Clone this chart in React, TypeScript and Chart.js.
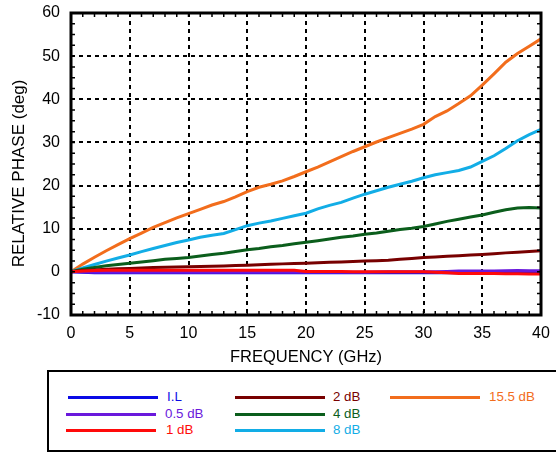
import React, { useEffect, useRef } from "react";
import { Chart, registerables } from "chart.js";

Chart.register(...registerables);

const freq = [0,1,2,3,4,5,6,7,8,9,10,11,12,13,14,15,16,17,18,19,20,21,22,23,24,25,26,27,28,29,30,31,32,33,34,35,36,37,38,39,40];

const il = [0,-0.1,-0.2,-0.2,-0.2,-0.2,-0.2,-0.2,-0.2,-0.2,-0.2,-0.2,-0.2,-0.2,-0.2,-0.2,-0.2,-0.2,-0.2,-0.2,-0.2,-0.2,-0.2,-0.2,-0.2,-0.2,-0.2,-0.2,-0.2,-0.2,-0.2,-0.2,-0.2,-0.2,-0.2,-0.2,-0.2,-0.2,-0.2,-0.2,-0.2];
const db05 = [0,-0.05,-0.1,-0.1,-0.1,-0.1,-0.1,-0.1,-0.1,-0.1,-0.1,-0.1,-0.1,-0.1,-0.1,-0.1,-0.1,-0.1,-0.1,-0.1,-0.1,-0.1,-0.1,-0.1,-0.1,-0.1,-0.05,0,0,0,0,0.05,0.1,0.2,0.2,0.2,0.2,0.25,0.3,0.25,0.25];
const db1 = [0,0.2,0.3,0.35,0.4,0.4,0.4,0.4,0.4,0.4,0.4,0.4,0.4,0.4,0.4,0.4,0.35,0.35,0.35,0.35,0.1,0.1,0.1,0.1,0.05,0,0,0,0,0,0,-0.1,-0.2,-0.4,-0.4,-0.4,-0.4,-0.45,-0.45,-0.5,-0.5];
const db2 = [0,0.3,0.45,0.6,0.7,0.8,0.9,1.0,1.05,1.1,1.2,1.25,1.3,1.35,1.45,1.55,1.65,1.75,1.85,1.95,2.0,2.1,2.2,2.3,2.4,2.5,2.6,2.7,2.9,3.1,3.3,3.45,3.6,3.75,3.9,4.05,4.2,4.4,4.55,4.7,4.9];
const db4 = [0,0.6,1.0,1.4,1.7,2.0,2.3,2.6,2.9,3.1,3.35,3.7,4.0,4.3,4.7,5.1,5.4,5.8,6.1,6.5,6.85,7.2,7.6,8.0,8.3,8.7,9.0,9.4,9.8,10.1,10.5,11.1,11.7,12.2,12.7,13.2,13.8,14.4,14.8,14.9,14.8];
const db8 = [0,0.9,1.7,2.5,3.2,3.9,4.7,5.4,6.1,6.8,7.4,8.0,8.5,8.9,9.8,10.7,11.3,11.8,12.4,13.0,13.6,14.6,15.4,16.1,17.1,18.0,18.8,19.6,20.3,21.0,21.8,22.5,23.0,23.5,24.3,25.6,26.9,28.6,30.4,31.8,33.0];
const db155 = [0,1.8,3.4,4.9,6.3,7.7,9.0,10.3,11.4,12.5,13.5,14.5,15.5,16.3,17.4,18.6,19.6,20.3,21.1,22.1,23.2,24.3,25.5,26.7,27.9,29.0,30.1,31.1,32.1,33.1,34.2,36.0,37.3,39.0,40.8,43.3,45.9,48.6,50.6,52.3,54.0];

const seriesLabels = ["I.L", "0.5 dB", "1 dB", "2 dB", "4 dB", "8 dB", "15.5 dB"];
const seriesValues = [il, db05, db1, db2, db4, db8, db155];
const seriesColors = ["#0a0ae6", "#6a18dc", "#ff0a0a", "#780000", "#0b5e1c", "#12ade6", "#f26d1c"];
const seriesOrder = [2, 1, 0, 3, 4, 5, 6];

const xTicksStep = 5;
const yTicksStep = 10;
const xMinorStep = 1;
const yMinorStep = 2.5;

const FONT = "'Liberation Sans', Arial, Helvetica, sans-serif";

// legend layout: [lineLeft, lineRight, textLeft, rowCenterY]
const legendPos = [
  [68, 158, 167, 397],
  [66, 156, 165, 414],
  [66, 156, 166, 430],
  [235, 325, 333, 397],
  [235, 325, 333, 414],
  [235, 325, 333, 430],
  [390, 480, 489, 397],
];

const framePlugin = {
  id: "frameMinor",
  afterDatasetsDraw(chart: any) {
    const { ctx, chartArea } = chart;
    const xs = chart.scales.x;
    const ys = chart.scales.y;
    ctx.save();
    ctx.strokeStyle = "#000";
    ctx.lineWidth = 1.5;
    ctx.setLineDash([]);
    const len = 4;
    for (let v = xs.min; v <= xs.max + 1e-6; v += xMinorStep) {
      const px = xs.getPixelForValue(v);
      ctx.beginPath();
      ctx.moveTo(px, chartArea.bottom);
      ctx.lineTo(px, chartArea.bottom - len);
      ctx.moveTo(px, chartArea.top);
      ctx.lineTo(px, chartArea.top + len);
      ctx.stroke();
    }
    for (let v = ys.min; v <= ys.max + 1e-6; v += yMinorStep) {
      const py = ys.getPixelForValue(v);
      ctx.beginPath();
      ctx.moveTo(chartArea.left, py);
      ctx.lineTo(chartArea.left + len, py);
      ctx.moveTo(chartArea.right, py);
      ctx.lineTo(chartArea.right - len, py);
      ctx.stroke();
    }
    ctx.lineWidth = 3;
    ctx.strokeRect(chartArea.left, chartArea.top, chartArea.right - chartArea.left, chartArea.bottom - chartArea.top);
    ctx.restore();
  },
};

export default function App() {
  const ref = useRef<HTMLCanvasElement>(null);

  useEffect(() => {
    if (!ref.current) return;
    Chart.defaults.font.family = FONT;
    const chart = new Chart(ref.current, {
      type: "line",
      data: {
        datasets: seriesLabels.map((label, i) => ({
          label,
          data: freq.map((f, j) => ({ x: f, y: seriesValues[i][j] })),
          borderColor: seriesColors[i],
          backgroundColor: seriesColors[i],
          borderWidth: 3,
          pointRadius: 0,
          tension: 0,
          fill: false,
          order: seriesOrder[i],
        })),
      },
      options: {
        animation: false,
        responsive: false,
        devicePixelRatio: 1,
        layout: { padding: { left: 0, right: 15, top: 13, bottom: 0 } },
        plugins: { legend: { display: false }, tooltip: { enabled: false } },
        scales: {
          x: {
            type: "linear",
            min: 0,
            max: 40,
            afterFit: (s: any) => { s.height = 55; s.paddingLeft = 0; s.paddingRight = 0; },
            ticks: { stepSize: xTicksStep, color: "#000", font: { size: 16 }, padding: 9 },
            grid: { color: "#000", lineWidth: 2, drawTicks: false, tickLength: 0 },
            border: { display: false, dash: [4, 4] },
            title: { display: true, text: "FREQUENCY (GHz)", color: "#000", font: { size: 16.5 }, padding: { top: 0, bottom: 3 } },
          },
          y: {
            type: "linear",
            min: -10,
            max: 60,
            afterFit: (s: any) => { s.width = 71; s.paddingTop = 0; s.paddingBottom = 0; },
            ticks: { stepSize: yTicksStep, color: "#000", font: { size: 16 }, padding: 11 },
            grid: { color: "#000", lineWidth: 2, drawTicks: false, tickLength: 0 },
            border: { display: false, dash: [4, 4] },
            title: { display: true, text: "RELATIVE PHASE (deg)    ", color: "#000", font: { size: 17 }, padding: { top: 9, bottom: 0 } },
          },
        },
      },
      plugins: [framePlugin],
    });
    return () => chart.destroy();
  }, []);

  return (
    <div style={{ position: "absolute", left: 0, top: 0, width: 556, height: 452, overflow: "hidden", background: "#fff", fontFamily: FONT }}>
      <canvas ref={ref} width={556} height={370} style={{ position: "absolute", left: 0, top: 0, width: 556, height: 370 }} />
      <div style={{ position: "absolute", left: 47, top: 370, width: 520, height: 82, boxSizing: "border-box", border: "2px solid #000" }} />
      {seriesLabels.map((label, i) => {
        const [l, r, t, cy] = legendPos[i];
        return (
          <React.Fragment key={label}>
            <div style={{ position: "absolute", left: l, top: cy - 1.5, width: r - l, height: 3, background: seriesColors[i] }} />
            <div style={{ position: "absolute", left: t, top: cy - 8, height: 16, lineHeight: "16px", fontSize: 13.3, color: seriesColors[i], whiteSpace: "nowrap" }}>{label}</div>
          </React.Fragment>
        );
      })}
    </div>
  );
}
